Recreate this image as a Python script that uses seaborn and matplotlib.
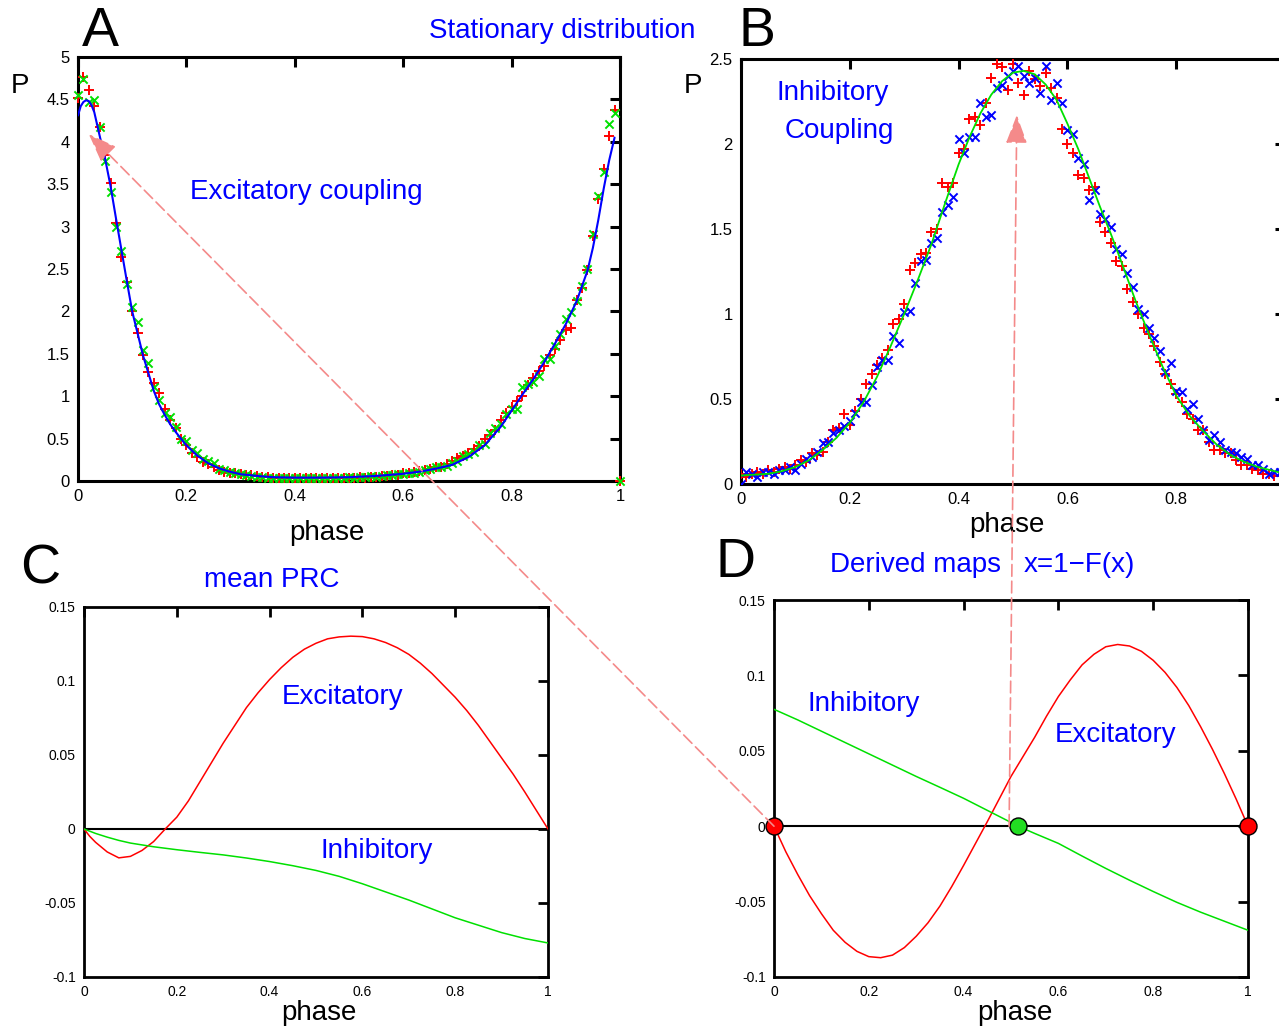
import numpy as np
import pandas as pd
import matplotlib
matplotlib.use("Agg")
import matplotlib.pyplot as plt
import seaborn as sns
from matplotlib.patches import ConnectionPatch
from matplotlib.ticker import FuncFormatter

# ---------------- data ----------------
# Panel A: stationary distribution, excitatory coupling
phase_A = [i / 100 for i in range(101)]
simA_red = [
    4.52, 4.76, 4.61, 4.42, 4.17, 3.85, 3.52, 3.04, 2.64, 2.35,
    2.00, 1.75, 1.49, 1.28, 1.16, 1.04, 0.85, 0.72, 0.62, 0.50,
    0.42, 0.33, 0.28, 0.22, 0.20, 0.16, 0.13, 0.11, 0.09, 0.09,
    0.08, 0.07, 0.07, 0.06, 0.05, 0.05,
    0.04, 0.03, 0.04, 0.03, 0.04, 0.03, 0.03, 0.04, 0.03, 0.04,
    0.03, 0.04, 0.04, 0.03, 0.04, 0.04, 0.05, 0.04, 0.05, 0.05,
    0.06, 0.06, 0.07, 0.07,
    0.09, 0.10, 0.11, 0.12, 0.13, 0.14, 0.16, 0.17, 0.20, 0.24,
    0.27, 0.30, 0.33, 0.38, 0.41, 0.49, 0.54, 0.60, 0.72, 0.80,
    0.87, 0.94, 1.00, 1.13, 1.22, 1.30, 1.36, 1.48, 1.56, 1.66,
    1.78, 1.81, 2.13, 2.28, 2.49, 2.89, 3.32, 3.68, 4.07, 4.38,
    0.0]
simA_green = [
    4.55, 4.74, 4.47, 4.49, 4.17, 3.77, 3.41, 3.00, 2.71, 2.32,
    2.05, 1.87, 1.54, 1.39, 1.11, 0.95, 0.80, 0.75, 0.64, 0.50,
    0.47, 0.36, 0.33, 0.26, 0.24, 0.21, 0.14, 0.13, 0.11, 0.09,
    0.08, 0.07, 0.06, 0.05, 0.05, 0.04,
    0.03, 0.04, 0.03, 0.04, 0.03, 0.04, 0.03, 0.03, 0.04, 0.03,
    0.04, 0.03, 0.04, 0.04, 0.05, 0.04, 0.05, 0.05, 0.06, 0.05,
    0.06, 0.07, 0.07, 0.08,
    0.08, 0.09, 0.09, 0.11, 0.13, 0.14, 0.16, 0.17, 0.18, 0.21,
    0.23, 0.29, 0.32, 0.34, 0.42, 0.44, 0.57, 0.62, 0.67, 0.79,
    0.85, 0.85, 1.11, 1.14, 1.17, 1.24, 1.44, 1.44, 1.59, 1.73,
    1.91, 1.99, 2.12, 2.30, 2.50, 2.91, 3.36, 3.64, 4.21, 4.34,
    0.0]
theoA_x = [0.0, 0.005, 0.01, 0.015, 0.02, 0.025, 0.03, 0.04, 0.05, 0.06,
           0.07, 0.08, 0.09, 0.10, 0.11, 0.12, 0.13, 0.14, 0.15, 0.16,
           0.17, 0.18, 0.19, 0.20, 0.22, 0.24, 0.26, 0.28, 0.30, 0.33,
           0.36, 0.40, 0.45, 0.50, 0.55, 0.60, 0.63, 0.66, 0.69, 0.72,
           0.75, 0.78, 0.80, 0.82, 0.84, 0.86, 0.88, 0.90, 0.92, 0.94,
           0.95, 0.96, 0.97, 0.98, 0.99]
theoA_y = [4.31, 4.42, 4.47, 4.49, 4.48, 4.43, 4.35, 4.07, 3.80, 3.48,
           3.10, 2.73, 2.36, 2.00, 1.74, 1.48, 1.27, 1.06, 0.90, 0.78,
           0.67, 0.58, 0.50, 0.42, 0.30, 0.21, 0.15, 0.11, 0.08, 0.06,
           0.045, 0.04, 0.04, 0.045, 0.06, 0.085, 0.11, 0.145, 0.19, 0.28,
           0.42, 0.64, 0.83, 1.02, 1.20, 1.40, 1.62, 1.85, 2.12, 2.48,
           2.75, 3.08, 3.45, 3.78, 4.05]

# Panel B: stationary distribution, inhibitory coupling
phase_B = [i / 100 for i in range(100)]
simB_red = [
    0.06, 0.04, 0.06, 0.07, 0.06, 0.08, 0.07, 0.09, 0.10, 0.09,
    0.11, 0.14, 0.13, 0.18, 0.17, 0.19, 0.25, 0.32, 0.33, 0.41,
    0.35, 0.43, 0.50, 0.59, 0.65, 0.70, 0.74, 0.79, 0.94, 0.97,
    1.06, 1.26, 1.30, 1.35, 1.36, 1.48, 1.50, 1.77, 1.75, 1.77,
    1.95, 1.97, 2.15, 2.16, 2.11, 2.24, 2.39, 2.47, 2.45, 2.32,
    2.47, 2.36, 2.29, 2.43, 2.38, 2.34, 2.42, 2.33, 2.27, 2.09,
    2.00, 1.95, 1.82, 1.80, 1.73, 1.75, 1.54, 1.48, 1.42, 1.31,
    1.28, 1.15, 1.07, 1.00, 0.92, 0.88, 0.81, 0.72, 0.65, 0.59,
    0.53, 0.48, 0.41, 0.38, 0.32, 0.32, 0.25, 0.20, 0.20, 0.18,
    0.18, 0.14, 0.11, 0.11, 0.09, 0.08, 0.06, 0.06, 0.05, 0.05]
simB_blue = [
    0.00, 0.07, 0.06, 0.04, 0.07, 0.07, 0.06, 0.08, 0.08, 0.10,
    0.08, 0.12, 0.15, 0.16, 0.19, 0.24, 0.25, 0.30, 0.32, 0.34,
    0.37, 0.42, 0.48, 0.48, 0.58, 0.69, 0.73, 0.73, 0.87, 0.83,
    1.01, 1.02, 1.18, 1.31, 1.32, 1.42, 1.45, 1.60, 1.64, 1.69,
    2.03, 1.95, 2.04, 2.04, 2.24, 2.16, 2.17, 2.33, 2.35, 2.40,
    2.43, 2.46, 2.40, 2.36, 2.39, 2.30, 2.46, 2.26, 2.36, 2.24,
    2.08, 2.06, 1.92, 1.88, 1.67, 1.73, 1.59, 1.56, 1.51, 1.38,
    1.35, 1.24, 1.16, 1.03, 1.00, 0.92, 0.86, 0.78, 0.66, 0.71,
    0.55, 0.54, 0.44, 0.47, 0.38, 0.32, 0.26, 0.29, 0.25, 0.20,
    0.19, 0.18, 0.16, 0.15, 0.11, 0.11, 0.09, 0.06, 0.07, 0.07]
theoB_x = [0.0, 0.025, 0.05, 0.075, 0.10, 0.125, 0.15, 0.175, 0.20, 0.225,
           0.25, 0.275, 0.30, 0.325, 0.35, 0.375, 0.40, 0.42, 0.44, 0.46,
           0.48, 0.50, 0.52, 0.54, 0.56, 0.58, 0.60, 0.62, 0.64, 0.66,
           0.68, 0.70, 0.725, 0.75, 0.775, 0.80, 0.825, 0.85, 0.875, 0.90,
           0.925, 0.95, 0.975, 1.0]
theoB_y = [0.05, 0.055, 0.06, 0.075, 0.10, 0.14, 0.20, 0.27, 0.36, 0.48,
           0.63, 0.81, 1.00, 1.20, 1.41, 1.65, 1.88, 2.04, 2.18, 2.29,
           2.37, 2.42, 2.43, 2.41, 2.35, 2.26, 2.12, 1.97, 1.80, 1.63,
           1.47, 1.30, 1.08, 0.88, 0.69, 0.52, 0.40, 0.31, 0.23, 0.17,
           0.13, 0.10, 0.08, 0.06]

# Panel C: mean PRC
prc_exc_x = [0.0, 0.0125, 0.025, 0.05, 0.075, 0.10, 0.125, 0.15, 0.175, 0.20,
             0.225, 0.25, 0.275, 0.30, 0.325, 0.35, 0.375, 0.40, 0.425, 0.45,
             0.475, 0.50, 0.525, 0.55, 0.575, 0.60, 0.625, 0.65, 0.675, 0.70,
             0.725, 0.75, 0.775, 0.80, 0.825, 0.85, 0.875, 0.90, 0.925, 0.95,
             0.975, 1.0]
prc_exc_y = [0.0, -0.005, -0.009, -0.0155, -0.0195, -0.0185, -0.0145, -0.0085, 0.0, 0.008,
             0.019, 0.032, 0.045, 0.058, 0.070, 0.082, 0.092, 0.101, 0.109, 0.116,
             0.1215, 0.1255, 0.1285, 0.1298, 0.1303, 0.1300, 0.1285, 0.126, 0.1225, 0.118,
             0.112, 0.105, 0.097, 0.089, 0.080, 0.070, 0.059, 0.048, 0.037, 0.025,
             0.0125, 0.0]
prc_inh_x = [0.0, 0.025, 0.05, 0.075, 0.10, 0.15, 0.20, 0.25, 0.30, 0.35,
             0.40, 0.45, 0.50, 0.55, 0.60, 0.65, 0.70, 0.75, 0.80, 0.85,
             0.90, 0.95, 1.0]
prc_inh_y = [0.0, -0.003, -0.0055, -0.0077, -0.0095, -0.012, -0.014, -0.0158, -0.0175, -0.0196,
             -0.022, -0.0248, -0.028, -0.032, -0.037, -0.0425, -0.048, -0.054, -0.060, -0.065,
             -0.070, -0.074, -0.077]

# Panel D: derived maps x = 1 - F(x)
map_exc_x = [0.0, 0.025, 0.05, 0.075, 0.10, 0.125, 0.15, 0.175, 0.20, 0.225,
             0.25, 0.275, 0.30, 0.325, 0.35, 0.375, 0.40, 0.425, 0.45, 0.475,
             0.50, 0.525, 0.55, 0.575, 0.60, 0.625, 0.65, 0.675, 0.70, 0.725,
             0.75, 0.775, 0.80, 0.825, 0.85, 0.875, 0.90, 0.925, 0.95, 0.975,
             1.0]
map_exc_y = [0.0, -0.017, -0.032, -0.046, -0.058, -0.069, -0.077, -0.083, -0.0865, -0.0872,
             -0.0855, -0.0805, -0.073, -0.064, -0.053, -0.040, -0.026, -0.0115, 0.003, 0.018,
             0.033, 0.046, 0.059, 0.073, 0.086, 0.097, 0.107, 0.114, 0.119, 0.1205,
             0.1195, 0.116, 0.110, 0.102, 0.092, 0.080, 0.066, 0.051, 0.035, 0.018,
             0.0]
map_inh_x = [0.0, 0.05, 0.10, 0.15, 0.20, 0.25, 0.30, 0.35, 0.40, 0.45,
             0.50, 0.515, 0.55, 0.60, 0.65, 0.70, 0.75, 0.80, 0.85, 0.90,
             0.95, 1.0]
map_inh_y = [0.0775, 0.0705, 0.063, 0.0555, 0.048, 0.0405, 0.033, 0.0258, 0.0185, 0.0105,
             0.0025, 0.0, -0.0048, -0.0114, -0.0198, -0.028, -0.0358, -0.0433, -0.0505, -0.057,
             -0.063, -0.069]
unstable_x = [0.0, 1.0]
stable_x = [0.515]

# ---------------- style ----------------
sns.set_theme(style="white")
plt.rcParams["font.family"] = ["Liberation Sans", "DejaVu Sans"]
plt.rcParams["axes.unicode_minus"] = False

RED = "#ff0000"
GREEN = "#00e000"
BLUE = "#0000ff"
PINK = "#f48a8a"

W, H = 1279, 1031
fig = plt.figure(figsize=(W / 100, H / 100), dpi=100)
fig.patch.set_facecolor("white")


def add_ax(l, t, r, b):
    return fig.add_axes([l / W, 1 - b / H, (r - l) / W, (b - t) / H])


axA = add_ax(78, 57, 620, 481)
axB = add_ax(741, 59, 1285, 484)
axC = add_ax(84, 607, 548, 977)
axD = add_ax(774, 600, 1248, 977)

fmt = FuncFormatter(lambda v, p: f"{v:g}")


def style(ax, labelsize, lw, pad):
    ax.set_facecolor("white")
    for s in ax.spines.values():
        s.set_visible(True)
        s.set_linewidth(lw)
        s.set_color("black")
    ax.grid(False)
    ax.tick_params(direction="in", length=7, width=lw, top=True, right=True,
                   labeltop=False, labelright=False, labelsize=labelsize,
                   colors="black", pad=pad)
    ax.xaxis.set_major_formatter(fmt)
    ax.yaxis.set_major_formatter(fmt)
    ax.set_xlabel("")
    ax.set_ylabel("")


# Panel A
sns.scatterplot(x=phase_A, y=simA_red, marker="+", color=RED, s=45, linewidth=1.4,
                ax=axA, zorder=3, clip_on=False)
sns.scatterplot(x=phase_A, y=simA_green, marker="x", color=GREEN, s=35, linewidth=1.4,
                ax=axA, zorder=3, clip_on=False)
sns.lineplot(x=theoA_x, y=theoA_y, color=BLUE, lw=1.5, ax=axA, estimator=None, sort=False, zorder=4)
axA.set_xlim(0, 1)
axA.set_ylim(0, 5)
axA.set_xticks([0, 0.2, 0.4, 0.6, 0.8, 1.0])
axA.set_yticks(np.arange(0, 5.01, 0.5))
style(axA, 12, 2.2, 6)

# Panel B (the right edge of the panel falls just outside the figure)
sns.scatterplot(x=phase_B, y=simB_red, marker="+", color=RED, s=45, linewidth=1.4,
                ax=axB, zorder=3)
sns.scatterplot(x=phase_B, y=simB_blue, marker="x", color=BLUE, s=35, linewidth=1.4,
                ax=axB, zorder=3)
sns.lineplot(x=theoB_x, y=theoB_y, color=GREEN, lw=1.3, ax=axB, estimator=None, sort=False, zorder=4)
axB.set_xlim(0, 1)
axB.set_ylim(0, 2.5)
axB.set_xticks([0, 0.2, 0.4, 0.6, 0.8])
axB.set_yticks(np.arange(0, 2.51, 0.5))
style(axB, 12, 2.2, 6)

# Panel C
axC.axhline(0, color="black", lw=1.5, zorder=2)
sns.lineplot(x=prc_exc_x, y=prc_exc_y, color=RED, lw=1.1, ax=axC, estimator=None, sort=False, zorder=3)
sns.lineplot(x=prc_inh_x, y=prc_inh_y, color=GREEN, lw=1.1, ax=axC, estimator=None, sort=False, zorder=3)
axC.set_xlim(0, 1)
axC.set_ylim(-0.1, 0.15)
axC.set_xticks([0, 0.2, 0.4, 0.6, 0.8, 1.0])
axC.set_yticks([-0.1, -0.05, 0, 0.05, 0.1, 0.15])
style(axC, 10, 2.0, 6)

# Panel D
axD.axhline(0, color="black", lw=1.5, zorder=2)
sns.lineplot(x=map_exc_x, y=map_exc_y, color=RED, lw=1.1, ax=axD, estimator=None, sort=False, zorder=3)
sns.lineplot(x=map_inh_x, y=map_inh_y, color=GREEN, lw=1.1, ax=axD, estimator=None, sort=False, zorder=3)
axD.scatter(unstable_x, [0] * len(unstable_x), s=150, color=RED, edgecolor="black",
            linewidth=1.0, zorder=6, clip_on=False)
axD.scatter(stable_x, [0] * len(stable_x), s=150, color="#22dd22", edgecolor="black",
            linewidth=1.0, zorder=6, clip_on=False)
axD.set_xlim(0, 1)
axD.set_ylim(-0.1, 0.15)
axD.set_xticks([0, 0.2, 0.4, 0.6, 0.8, 1.0])
axD.set_yticks([-0.1, -0.05, 0, 0.05, 0.1, 0.15])
style(axD, 10, 2.0, 6)


# ---------------- texts ----------------
def ftext(x, y, s, size, color="black", **kw):
    fig.text(x / W, 1 - y / H, s, fontsize=size, color=color, ha="center", va="center", **kw)


ftext(100, 32, "A", 40)
ftext(757, 32, "B", 40)
ftext(40, 570, "C", 40)
ftext(735, 563, "D", 40)
ftext(562, 31, "Stationary distribution", 20)
ftext(272, 580, "mean PRC", 20, BLUE)
ftext(916, 565, "Derived maps", 20, BLUE)
ftext(1079, 565, "x=1\u2212F(x)", 20, BLUE)
ftext(20, 86, "P", 20)
ftext(693, 86, "P", 20)
ftext(327, 533, "phase", 20)
ftext(1007, 525, "phase", 20)
ftext(319, 1013, "phase", 20)
ftext(1015, 1013, "phase", 20)
ftext(306, 192, "Excitatory coupling", 20, BLUE)
ftext(833, 93, "Inhibitory", 20, BLUE)
ftext(839, 131, "Coupling", 20, BLUE)
ftext(343, 697, "Excitatory", 20, BLUE)
ftext(377, 851, "Inhibitory", 20, BLUE)
ftext(864, 704, "Inhibitory", 20, BLUE)
ftext(1116, 735, "Excitatory", 20, BLUE)
# title of panel A is blue as well
fig.texts[4].set_color(BLUE)

# ---------------- connecting arrows ----------------
arrow_kw = dict(arrowstyle="-|>,head_length=0.8,head_width=0.3", mutation_scale=22,
                color=PINK, lw=1.2, linestyle=(0, (7, 3)), zorder=5)
con1 = ConnectionPatch(xyA=(0.0, 0.0), coordsA=axD.transData,
                       xyB=(0.02, 4.09), coordsB=axA.transData, **arrow_kw)
fig.add_artist(con1)
con2 = ConnectionPatch(xyA=(0.496, 0.0), coordsA=axD.transData,
                       xyB=(0.507, 2.17), coordsB=axB.transData, **arrow_kw)
fig.add_artist(con2)

fig.savefig("out.png", dpi=100, facecolor="white")
